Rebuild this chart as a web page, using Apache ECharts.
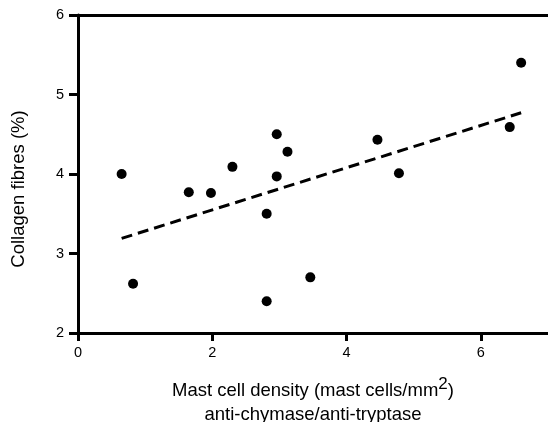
<!DOCTYPE html>
<html>
<head>
<meta charset="utf-8">
<script src="https://cdn.jsdelivr.net/npm/echarts@6/dist/echarts.min.js"></script>
<style>html,body{margin:0;padding:0;background:#fff}#c{width:548px;height:422px}</style>
</head>
<body>
<div id="c"></div>
<script>
var xValues = [0.65, 0.82, 1.65, 1.98, 2.30, 2.81, 2.81, 2.96, 2.96, 3.12, 3.46, 4.46, 4.78, 6.43, 6.60];
var yValues = [4.00, 2.62, 3.77, 3.76, 4.09, 3.50, 2.40, 4.50, 3.97, 4.28, 2.70, 4.43, 4.01, 4.59, 5.40];
var fitX = [0.65, 6.60];
var fitY = [3.19, 4.77];
var xTicks = [0, 2, 4, 6];
var yTicks = [2, 3, 4, 5, 6];

var pts = xValues.map(function (x, i) { return [x, yValues[i]]; });
var fit = fitX.map(function (x, i) { return [x, fitY[i]]; });
var font = 'Liberation Sans, Arial, Helvetica, sans-serif';

var chart = echarts.init(document.getElementById('c'), null, {renderer: 'canvas'});
chart.setOption({
  animation: false,
  backgroundColor: '#fff',
  grid: {left: 78, right: 0, top: 15, bottom: 89, containLabel: false, outerBoundsMode: 'none'},
  xAxis: [{
    type: 'value', min: 0, max: 7, interval: 2,
    position: 'bottom',
    name: '{a|Mast cell density (mast cells/mm}{s|2}{a|)}\n{a|anti-chymase/anti-tryptase}',
    nameLocation: 'middle', nameGap: 46,
    nameTextStyle: {
      fontFamily: font, color: '#000', lineHeight: 24,
      rich: {
        a: {fontFamily: font, fontSize: 18.5, color: '#000', lineHeight: 24},
        s: {fontFamily: font, fontSize: 17, color: '#000', verticalAlign: 'bottom', padding: [0, 0, 10, 0], lineHeight: 24}
      }
    },
    axisLine: {show: true, onZero: false, lineStyle: {color: '#000', width: 3}},
    axisTick: {show: true, length: 8, lineStyle: {color: '#000', width: 3}},
    axisLabel: {fontFamily: font, fontSize: 14.5, color: '#000', margin: 12,
      showMaxLabel: false, hideOverlap: false,
      formatter: function (v) { return xTicks.indexOf(v) >= 0 ? String(v) : ''; }},
    splitLine: {show: false}
  }, {
    type: 'value', min: 0, max: 7, position: 'top',
    axisLine: {show: true, onZero: false, lineStyle: {color: '#000', width: 3}},
    axisTick: {show: false}, axisLabel: {show: false}, splitLine: {show: false}
  }],
  yAxis: {
    type: 'value', min: 2, max: 6, interval: 1,
    name: 'Collagen fibres (%)',
    nameLocation: 'middle', nameGap: 50,
    nameTextStyle: {fontFamily: font, fontSize: 18.5, color: '#000', padding: [0, 30, 0, 0]},
    axisLine: {show: true, onZero: false, lineStyle: {color: '#000', width: 3}},
    axisTick: {show: true, length: 9, lineStyle: {color: '#000', width: 3}},
    axisLabel: {fontFamily: font, fontSize: 14.5, color: '#000', margin: 14,
      formatter: function (v) { return yTicks.indexOf(v) >= 0 ? String(v) : ''; }},
    splitLine: {show: false}
  },
  series: [{
    type: 'line', data: fit, symbol: 'none', silent: true,
    lineStyle: {color: '#000', width: 3, type: [11, 6]}, z: 2
  }, {
    type: 'scatter', data: pts, symbol: 'circle', symbolSize: 10,
    itemStyle: {color: '#000', opacity: 1}, z: 3
  }]
});
</script>
</body>
</html>
